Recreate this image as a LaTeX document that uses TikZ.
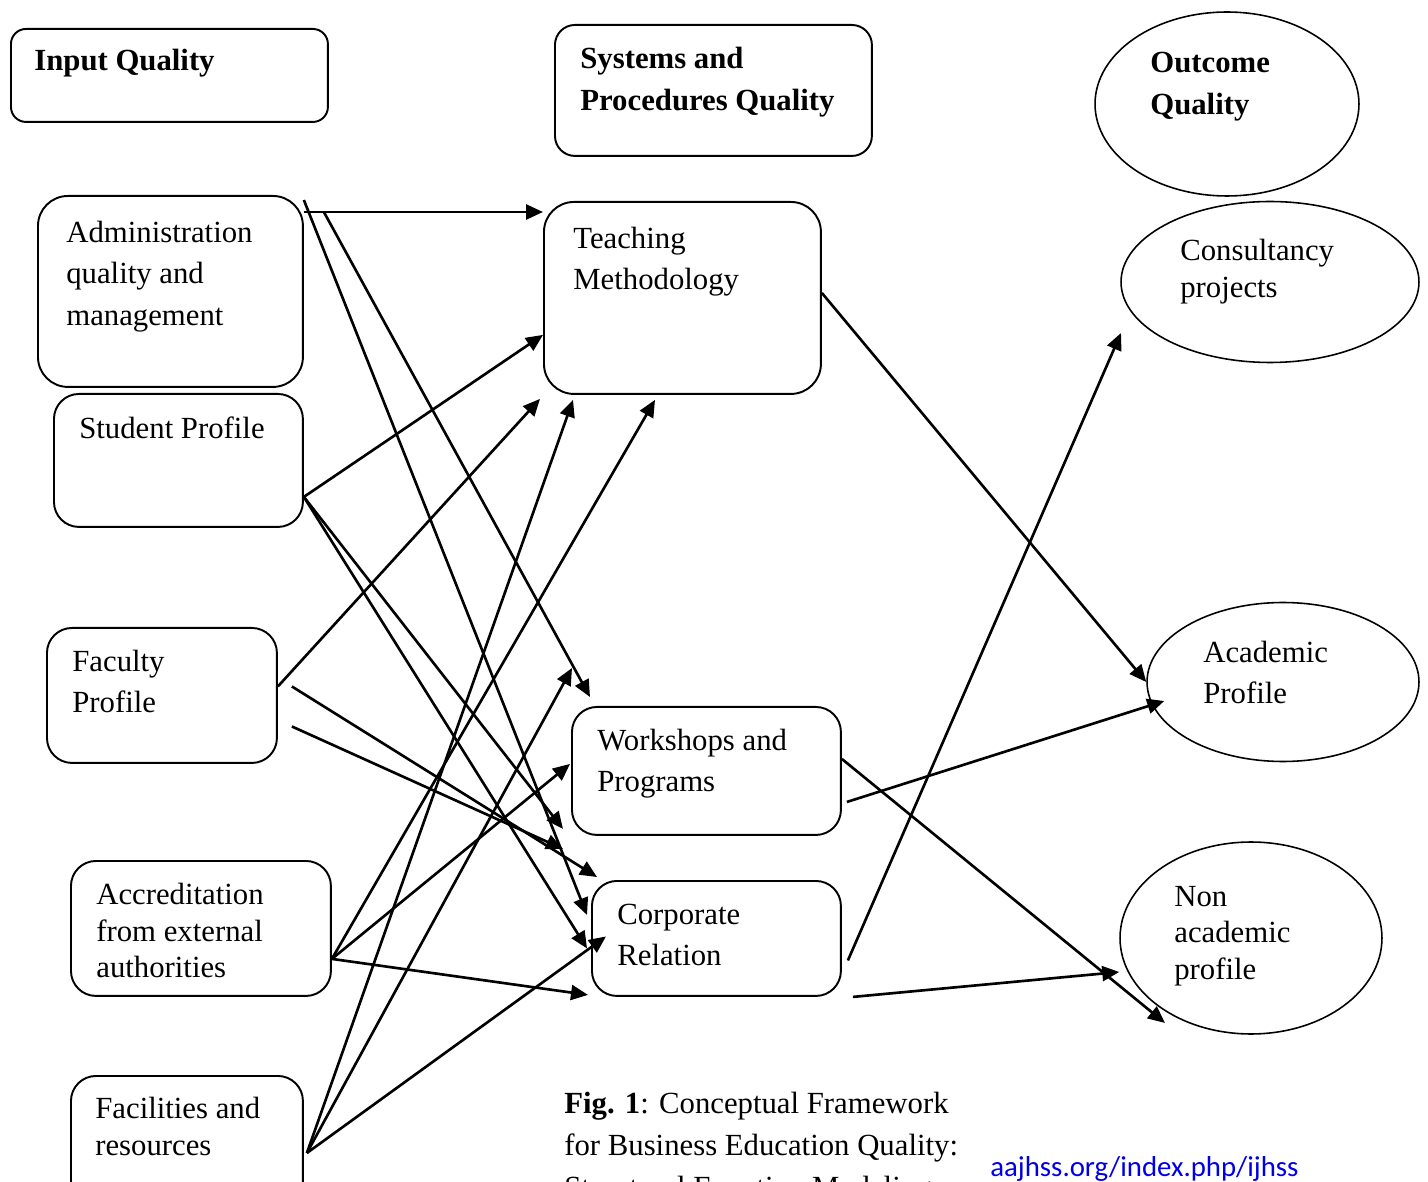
\documentclass[tikz,border=0pt]{standalone}
\usepackage{fontspec}
\setmainfont{Liberation Serif}
\newfontfamily\linkfont{Carlito}
\usepackage{tikz}
\usetikzlibrary{arrows.meta, shapes.geometric, calc}
\definecolor{linkblue}{RGB}{0,0,230}

\begin{document}
\begin{tikzpicture}[x=0.02cm, y=-0.02cm, >={Triangle[length=0.34cm, width=0.3cm]},
	box/.style={draw, rounded corners=0.5cm, line width=1.1pt, anchor=north west, inner sep=0pt},
	oval/.style={draw, ellipse, line width=0.9pt, inner sep=0pt},
	txt/.style={anchor=north west, align=left, inner sep=0pt, font=\fontsize{17.5}{23.5}\selectfont},
	head/.style={txt, font=\bfseries\fontsize{17.5}{23.8}\selectfont},
	tight/.style={txt, font=\fontsize{17.5}{20.7}\selectfont},
	link/.style={line width=1.5pt}]
		\useasboundingbox (0,0) rectangle (1428,1182);
		% headings
		\node[box, rounded corners=0.3cm, minimum width=6.34cm, minimum height=1.86cm] (inq) at (10,28) {};
		\node[head] (inq-t) at (34,49) {Input Quality};
		\node[box, rounded corners=0.4cm, minimum width=6.34cm, minimum height=2.62cm] (sysq) at (554,24) {};
		\node[head] (sysq-t) at (580,47) {Systems and\\Procedures Quality};
		\node[oval, minimum width=5.28cm, minimum height=3.68cm] (outq) at (1227,104) {};
		\node[head] (outq-t) at (1150,52) {Outcome\\Quality};
		% input quality
		\node[box, rounded corners=0.6cm, minimum width=5.3cm, minimum height=3.82cm] (admin) at (37,195) {};
		\node[txt] (admin-t) at (66,221) {Administration\\quality and\\management};
		\node[box, minimum width=4.98cm, minimum height=2.66cm] (stud) at (53,393) {};
		\node[txt] (stud-t) at (79,417) {Student Profile};
		\node[box, minimum width=4.6cm, minimum height=2.7cm] (fac) at (46,627) {};
		\node[txt] (fac-t) at (72,650) {Faculty\\Profile};
		\node[box, minimum width=5.2cm, minimum height=2.7cm] (accr) at (70,860) {};
		\node[tight] (accr-t) at (96,883) {Accreditation\\from external\\authorities};
		\node[box, minimum width=4.64cm, minimum height=2.6cm] (facil) at (70,1075) {};
		\node[tight] (facil-t) at (95,1097) {Facilities and\\resources};
		% systems and procedures
		\node[box, rounded corners=0.6cm, minimum width=5.54cm, minimum height=3.84cm] (teach) at (543,201) {};
		\node[txt] (teach-t) at (573,227) {Teaching\\Methodology};
		\node[box, minimum width=5.38cm, minimum height=2.56cm] (work) at (571,706) {};
		\node[txt] (work-t) at (597,729) {Workshops and\\Programs};
		\node[box, minimum width=4.98cm, minimum height=2.3cm] (corp) at (591,880) {};
		\node[txt] (corp-t) at (617,904) {Corporate\\Relation};
		% outcomes
		\node[oval, minimum width=5.96cm, minimum height=3.22cm] (cons) at (1270,282) {};
		\node[tight] (cons-t) at (1180,239) {Consultancy\\projects};
		\node[oval, minimum width=5.44cm, minimum height=3.18cm] (acad) at (1283,682) {};
		\node[txt] (acad-t) at (1203,641) {Academic\\Profile};
		\node[oval, minimum width=5.24cm, minimum height=3.84cm] (nonac) at (1251,938) {};
		\node[tight] (nonac-t) at (1174,886) {Non\\academic\\profile};
		% caption and source
		\node[txt, font=\fontsize{17.5}{23.8}\selectfont] (cap) at (564,1092) {\textbf{Fig. 1}: Conceptual Framework\\for Business Education Quality:\\Structural Equation Modeling};
		\node[anchor=base west, inner sep=0pt, text=linkblue, font=\linkfont\fontsize{16.4}{20}\selectfont] (src) at (990,1176) {\underline{aajhss.org/index.php/ijhss}};
		% input -> systems
		\draw[->, link] ($(admin.north east)+(0,17)$) -- ($(teach.north west)+(0,11)$);
		\draw[->, link] ($(admin.north east)+(0,5)$) -- ($(corp.north west)+(-4,35)$);
		\draw[->, link] ($(admin.north east)+(20,17)$) -- ($(work.north west)+(19,-9)$);
		\draw[->, link] ($(stud.south east)+(0,-31)$) -- ($(teach.south west)+(0,-60)$);
		\draw[->, link] ($(stud.south east)+(0,-31)$) -- ($(work.south west)+(-8,-7)$);
		\draw[->, link] ($(stud.south east)+(0,-31)$) -- ($(corp.west)+(-4,10)$);
		\draw[->, link] ($(fac.east)+(0,-9)$) -- ($(teach.south west)+(-3,4)$);
		\draw[->, link] ($(fac.east)+(14,-9)$) -- ($(corp.north west)+(6,-3)$);
		\draw[->, link] ($(fac.east)+(14,31)$) -- ($(work.south west)+(-8,13)$);
		\draw[->, link] ($(accr.south east)+(0,-38)$) -- ($(teach.south west)+(112,5)$);
		\draw[->, link] ($(accr.south east)+(0,-38)$) -- ($(work.west)+(-1,-7)$);
		\draw[->, link] ($(accr.south east)+(0,-38)$) -- ($(corp.south west)+(-3,-2)$);
		\draw[->, link] ($(facil.north east)+(3,78)$) -- ($(teach.south west)+(30,5)$);
		\draw[->, link] ($(facil.north east)+(3,78)$) -- ($(work.north west)+(1,-38)$);
		\draw[->, link] ($(facil.north east)+(3,78)$) -- ($(corp.west)+(15,-2)$);
		% systems -> outcomes
		\draw[->, link] ($(teach.east)+(0,-5)$) -- (acad.west);
		\draw[->, link] ($(work.east)+(5,31)$) -- ($(acad.west)+(18,19)$);
		\draw[->, link] ($(work.east)+(0,-12)$) -- ($(nonac.center)+(-86,85)$);
		\draw[->, link] ($(corp.east)+(6,22)$) -- ($(cons.center)+(-149,51)$);
		\draw[->, link] ($(corp.south east)+(11,0)$) -- ($(nonac.west)+(0,34)$);
	\end{tikzpicture}
\end{document}
